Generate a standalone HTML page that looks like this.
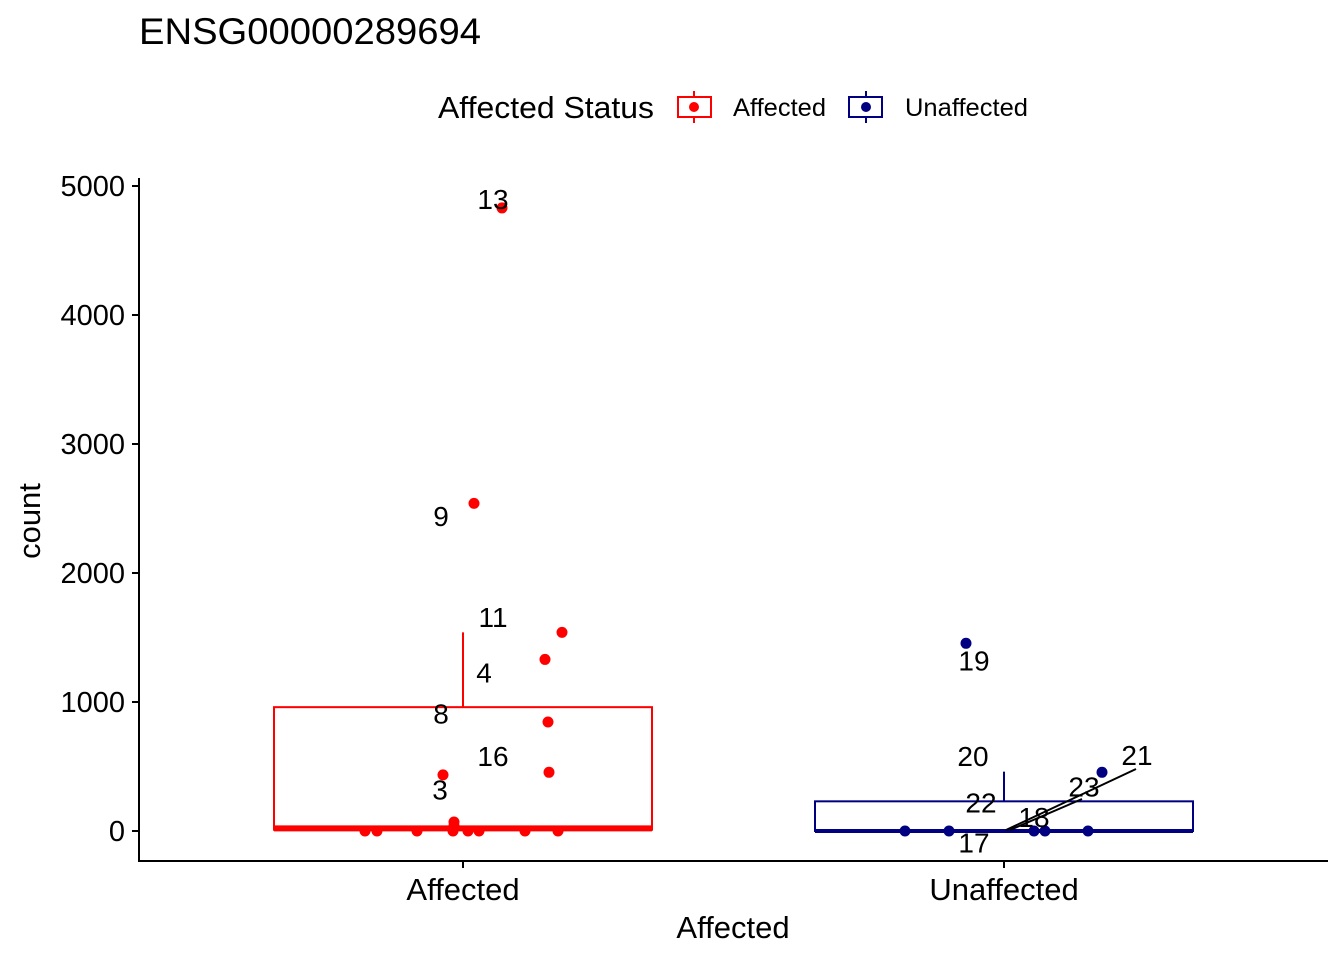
<!DOCTYPE html>
<html><head><meta charset="utf-8"><style>
body{margin:0;background:#fff}
svg text{font-family:"Liberation Sans",Arial,sans-serif}
</style></head><body>
<svg id="chart" width="1344" height="960" xmlns="http://www.w3.org/2000/svg">
<text x="139" y="44" font-size="37" textLength="342" lengthAdjust="spacingAndGlyphs">ENSG00000289694</text>
<g>
<text x="438" y="118" font-size="31" textLength="216" lengthAdjust="spacingAndGlyphs">Affected Status</text>
<g>
<line x1="694" y1="91" x2="694" y2="123" stroke="red" stroke-width="2"/>
<rect x="678" y="97" width="33" height="20" fill="#fff" stroke="red" stroke-width="2"/>
<circle cx="694" cy="107" r="5" fill="red"/>
<text x="733" y="116" font-size="25" textLength="93" lengthAdjust="spacingAndGlyphs">Affected</text></g>
<g>
<line x1="866" y1="91" x2="866" y2="123" stroke="#000080" stroke-width="2"/>
<rect x="849" y="97" width="33" height="20" fill="#fff" stroke="#000080" stroke-width="2"/>
<circle cx="866" cy="107" r="5" fill="#000080"/>
<text x="905" y="116" font-size="25" textLength="123" lengthAdjust="spacingAndGlyphs">Unaffected</text></g>
</g>
<g id="plot"></g>
<line x1="139" y1="178" x2="139" y2="862" stroke="#000" stroke-width="2"/>
<line x1="138" y1="861" x2="1328" y2="861" stroke="#000" stroke-width="2"/>
<text transform="translate(40,521) rotate(-90)" text-anchor="middle" font-size="31">count</text>
<text x="733" y="938" text-anchor="middle" font-size="31">Affected</text>
</svg>
<script>
const categories=["Affected","Unaffected"];
const yTicks=[0,1000,2000,3000,4000,5000];
const boxLow=[10,0], boxHigh=[960,230], medians=[20,0], whiskerHigh=[1540,460];
const colors=["red","#000080"];
const affVals=[4830,2540,1540,1330,845,455,435,70,40,0,0,0,0,0,0,0,0];
const affJit=[39,11,99,82,85,86,-20,-9,-9,-98,-86,-46,-10,5,16,62,95];
const unVals=[1455,455,0,0,0,0,0];
const unJit=[-38,98,-99,-55,30,41,84];
const labels=[
 ["13",0,30,4900],["9",0,-22,2440],["11",0,30,1660],["4",0,21,1230],["8",0,-22,910],["16",0,30,580],["3",0,-23,320],
 ["19",1,-30,1320],["20",1,-31,580],["21",1,133,590],["23",1,80,345],["22",1,-23,220],["18",1,30,110],["17",1,-30,-90]];
const y=v=>831-v*0.129;
const x=i=>463+i*541;
const g=document.getElementById('plot');
const ns="http://www.w3.org/2000/svg";
function mk(t,a){const e=document.createElementNS(ns,t);for(const k in a)e.setAttribute(k,a[k]);g.appendChild(e);return e;}
yTicks.forEach(t=>{
 const l=mk('line',{x1:132,x2:139,y1:y(t),y2:y(t),stroke:'#000','stroke-width':2});
 
 
 const tx=mk('text',{x:125,y:y(t)+10,'text-anchor':'end','font-size':29});
 tx.textContent=t;
 
 
});
categories.forEach((c,i)=>{
 mk('line',{x1:x(i),x2:x(i),y1:861,y2:868,stroke:'#000','stroke-width':2});
 const tx=mk('text',{x:x(i),y:900,'text-anchor':'middle','font-size':31});
 tx.textContent=c;
 
 
 const w=mk('line',{x1:x(i),x2:x(i),y1:y(boxHigh[i]),y2:y(whiskerHigh[i]),stroke:colors[i],'stroke-width':2});
 
 
 const r=mk('rect',{x:x(i)-189,y:y(boxHigh[i]),width:378,height:y(boxLow[i])-y(boxHigh[i]),fill:'none',stroke:colors[i],'stroke-width':2});
 
 
 const m=mk('line',{x1:x(i)-189,x2:x(i)+189,y1:y(medians[i]),y2:y(medians[i]),stroke:colors[i],'stroke-width':i?4:6});
 
 
});
[[affVals,affJit,0],[unVals,unJit,1]].forEach(([vals,jit,i])=>{
 vals.forEach((v,k)=>{
  const p=mk('circle',{cx:x(i)+jit[k],cy:y(v),r:5.5,fill:colors[i]});
  
  
 });
});
const seg=[[1136,769,1006,830],[1082,799,1010,830]];
seg.forEach(s=>{const l=mk('line',{x1:s[0],y1:s[1],x2:s[2],y2:s[3],stroke:'#000','stroke-width':2});
 
 });
labels.forEach(([t,i,dx,v])=>{
 const tx=mk('text',{x:x(i)+dx,y:y(v)+10,'text-anchor':'middle','font-size':28});
 tx.textContent=t;
 
 
});
</script>
</body></html>
